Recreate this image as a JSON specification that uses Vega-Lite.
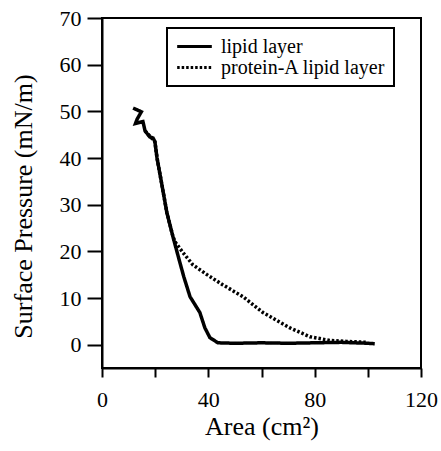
{
  "$schema": "https://vega.github.io/schema/vega-lite/v6.json",
  "width": 319,
  "height": 350,
  "autosize": "none",
  "padding": {"left": 102, "top": 18, "right": 20, "bottom": 83},
  "background": "white",
  "config": {
    "view": {"stroke": "black", "strokeWidth": 2},
    "font": "Liberation Serif"
  },
  "data": {
    "values": [
      {"series": "lipid layer", "i": 1, "area": 11.7, "pressure": 50.7},
      {"series": "lipid layer", "i": 2, "area": 14.8, "pressure": 49.9},
      {"series": "lipid layer", "i": 3, "area": 13.2, "pressure": 48.3},
      {"series": "lipid layer", "i": 4, "area": 12.6, "pressure": 47.4},
      {"series": "lipid layer", "i": 5, "area": 15.4, "pressure": 47.8},
      {"series": "lipid layer", "i": 6, "area": 16.2, "pressure": 45.8},
      {"series": "lipid layer", "i": 7, "area": 18.0, "pressure": 44.5},
      {"series": "lipid layer", "i": 8, "area": 19.2, "pressure": 44.3},
      {"series": "lipid layer", "i": 9, "area": 19.9, "pressure": 43.5},
      {"series": "lipid layer", "i": 10, "area": 20.7, "pressure": 40.0},
      {"series": "lipid layer", "i": 11, "area": 22.2, "pressure": 35.3},
      {"series": "lipid layer", "i": 12, "area": 24.4, "pressure": 28.3},
      {"series": "lipid layer", "i": 13, "area": 26.7, "pressure": 23.1},
      {"series": "lipid layer", "i": 14, "area": 29.3, "pressure": 17.6},
      {"series": "lipid layer", "i": 15, "area": 30.8, "pressure": 14.5},
      {"series": "lipid layer", "i": 16, "area": 33.1, "pressure": 10.3},
      {"series": "lipid layer", "i": 17, "area": 36.8, "pressure": 6.9},
      {"series": "lipid layer", "i": 18, "area": 38.7, "pressure": 3.6},
      {"series": "lipid layer", "i": 19, "area": 40.6, "pressure": 1.5},
      {"series": "lipid layer", "i": 20, "area": 43.6, "pressure": 0.4},
      {"series": "lipid layer", "i": 21, "area": 50, "pressure": 0.3},
      {"series": "lipid layer", "i": 22, "area": 60, "pressure": 0.4},
      {"series": "lipid layer", "i": 23, "area": 70, "pressure": 0.3},
      {"series": "lipid layer", "i": 24, "area": 80, "pressure": 0.4},
      {"series": "lipid layer", "i": 25, "area": 90, "pressure": 0.5},
      {"series": "lipid layer", "i": 26, "area": 100, "pressure": 0.3},
      {"series": "lipid layer", "i": 27, "area": 102.6, "pressure": 0.2},
      {"series": "protein-A lipid layer", "i": 1, "area": 16.2, "pressure": 45.8},
      {"series": "protein-A lipid layer", "i": 2, "area": 19.9, "pressure": 43.5},
      {"series": "protein-A lipid layer", "i": 3, "area": 20.7, "pressure": 40.0},
      {"series": "protein-A lipid layer", "i": 4, "area": 22.2, "pressure": 35.3},
      {"series": "protein-A lipid layer", "i": 5, "area": 24.4, "pressure": 28.3},
      {"series": "protein-A lipid layer", "i": 6, "area": 26.5, "pressure": 23.6},
      {"series": "protein-A lipid layer", "i": 7, "area": 27.4, "pressure": 22.1},
      {"series": "protein-A lipid layer", "i": 8, "area": 30.5, "pressure": 19.7},
      {"series": "protein-A lipid layer", "i": 9, "area": 34.2, "pressure": 17.1},
      {"series": "protein-A lipid layer", "i": 10, "area": 39.5, "pressure": 15.0},
      {"series": "protein-A lipid layer", "i": 11, "area": 45.5, "pressure": 12.8},
      {"series": "protein-A lipid layer", "i": 12, "area": 53.0, "pressure": 10.3},
      {"series": "protein-A lipid layer", "i": 13, "area": 60.5, "pressure": 6.9},
      {"series": "protein-A lipid layer", "i": 14, "area": 70.7, "pressure": 3.6},
      {"series": "protein-A lipid layer", "i": 15, "area": 78.2, "pressure": 1.7},
      {"series": "protein-A lipid layer", "i": 16, "area": 85.7, "pressure": 0.9},
      {"series": "protein-A lipid layer", "i": 17, "area": 92.0, "pressure": 0.7},
      {"series": "protein-A lipid layer", "i": 18, "area": 99.6, "pressure": 0.5}
    ]
  },
  "mark": {"type": "line", "color": "black", "strokeWidth": 3.5, "clip": true},
  "encoding": {
    "x": {
      "field": "area", "type": "quantitative",
      "scale": {"domain": [0, 120], "nice": false, "zero": false},
      "axis": {
        "title": "Area (cm²)",
        "values": [0, 20, 40, 60, 80, 100, 120],
        "labelExpr": "datum.value % 40 === 0 ? datum.label : ''",
        "grid": false,
        "domainColor": "black", "domainWidth": 2,
        "tickColor": "black", "tickWidth": 2, "tickSize": 9,
        "labelFont": "Liberation Serif", "labelFontSize": 22, "labelColor": "black",
        "labelPadding": 12, "labelFlush": false,
        "titleFont": "Liberation Serif", "titleFontSize": 26, "titleFontWeight": "normal",
        "titleColor": "black", "titlePadding": 3
      }
    },
    "y": {
      "field": "pressure", "type": "quantitative",
      "scale": {"domain": [-5, 70], "nice": false, "zero": false},
      "axis": {
        "title": "Surface Pressure (mN/m)",
        "values": [0, 10, 20, 30, 40, 50, 60, 70],
        "grid": false,
        "domainColor": "black", "domainWidth": 2,
        "tickColor": "black", "tickWidth": 2, "tickSize": 15,
        "labelFont": "Liberation Serif", "labelFontSize": 22, "labelColor": "black",
        "labelPadding": 6, "labelFlush": false,
        "titleFont": "Liberation Serif", "titleFontSize": 26, "titleFontWeight": "normal",
        "titleColor": "black", "titlePadding": 23, "titleY": 188
      }
    },
    "strokeDash": {
      "field": "series", "type": "nominal",
      "scale": {"domain": ["lipid layer", "protein-A lipid layer"], "range": [[1, 0], [2.5, 2]]},
      "legend": {
        "title": null,
        "orient": "none", "legendX": 65, "legendY": 10,
        "symbolType": "M-2,0H2", "symbolSize": 300, "symbolStrokeWidth": 3,
        "symbolStrokeColor": "black", "symbolFillColor": "transparent",
        "symbolOffset": 9,
        "labelFont": "Liberation Serif", "labelFontSize": 20, "labelColor": "black",
        "labelLimit": 400,
        "labelOffset": 16, "rowPadding": 0,
        "padding": 8, "strokeColor": "black", "fillColor": "white",
        "encode": {"legend": {"update": {"strokeWidth": {"value": 2}}}}
      }
    },
    "order": {"field": "i", "type": "quantitative"}
  }
}
